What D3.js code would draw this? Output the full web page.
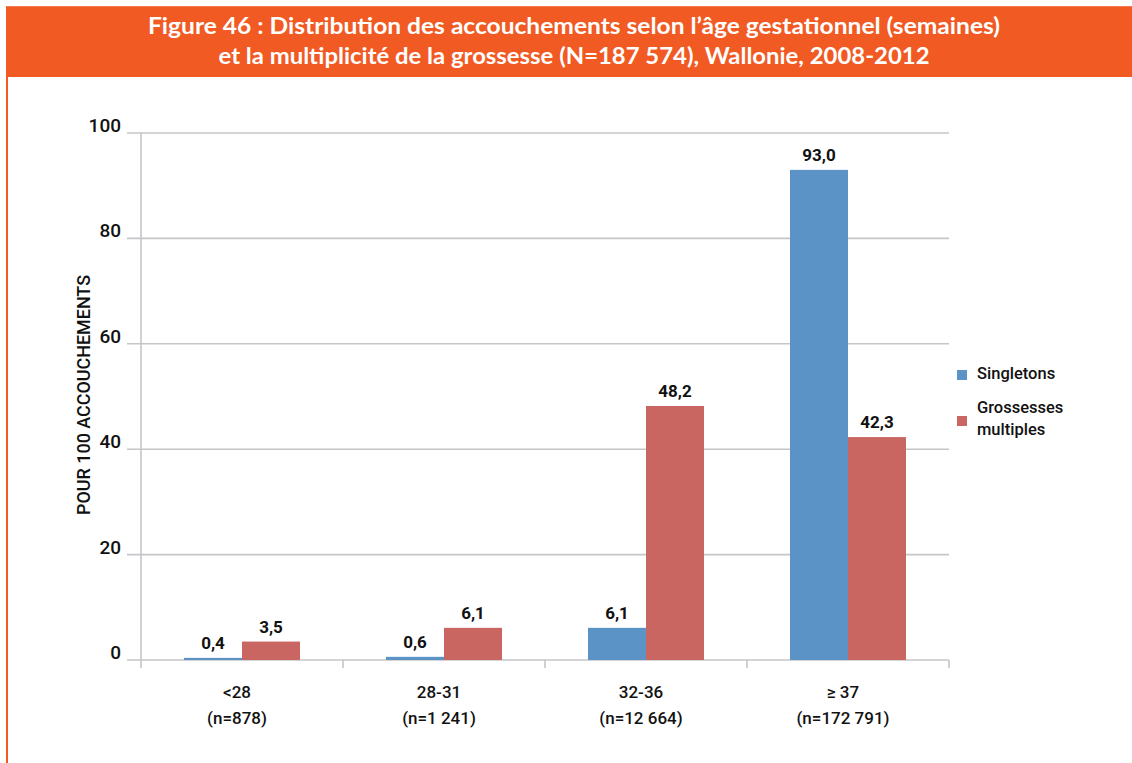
<!DOCTYPE html>
<html>
<head>
<meta charset="utf-8">
<script src="https://cdn.jsdelivr.net/npm/d3@7/dist/d3.min.js"></script>
<style>
  html, body { margin: 0; padding: 0; background: #fff; }
  svg { display: block; }
  .cond { font-family: "Roboto", "Liberation Sans", sans-serif; font-weight: 500; }
</style>
</head>
<body>
<svg id="chart" width="1132" height="763"></svg>
<script>
// Gestational age groups and their counts
const categories = ["<28", "28-31", "32-36", "\u2265 37"];
const categoryCounts = ["(n=878)", "(n=1 241)", "(n=12 664)", "(n=172 791)"];
const seriesNames = ["Singletons", "Grossesses multiples"];
const singletons = [0.4, 0.6, 6.1, 93.0];
const multiples = [3.5, 6.1, 48.2, 42.3];
const yTicks = [0, 20, 40, 60, 80, 100];
const titleLines = [
  "Figure 46 : Distribution des accouchements selon l\u2019\u00e2ge gestationnel (semaines)",
  "et la multiplicit\u00e9 de la grossesse (N=187 574), Wallonie, 2008-2012"
];
const titleWidths = [852, 711];
const yTitle = "POUR 100 ACCOUCHEMENTS";

const colors = ["#5B93C6", "#CA6662"];
const orange = "#F15A22";
const gridColor = "#C6C6CA";

const svg = d3.select("#chart");

// Header band and left rule
svg.append("rect").attr("x", 6).attr("y", 6).attr("width", 1126).attr("height", 71).attr("fill", orange);
svg.append("rect").attr("x", 6).attr("y", 6).attr("width", 1126).attr("height", 1).attr("fill", "#F47A50");
svg.append("rect").attr("x", 6).attr("y", 77).attr("width", 2).attr("height", 686).attr("fill", orange);

svg.selectAll("text.title").data(titleLines).enter().append("text")
  .attr("class", "title")
  .attr("x", 574).attr("y", (d, i) => 34 + i * 30)
  .attr("text-anchor", "middle")
  .attr("fill", "#fff")
  .attr("font-family", "Lato, 'Open Sans', sans-serif")
  .attr("font-weight", "bold")
  .attr("font-size", 23)
  .attr("textLength", (d, i) => titleWidths[i])
  .attr("lengthAdjust", "spacingAndGlyphs")
  .text(d => d);

// Plot area
const plotLeft = 141, plotRight = 949, plotTop = 133, plotBottom = 660;
const x = d3.scaleBand().domain(categories).range([plotLeft, plotRight]).paddingInner(0).paddingOuter(0);
const x1 = d3.scaleBand().domain(seriesNames).range([0, 116]);
const y = d3.scaleLinear().domain([0, 100]).range([plotBottom, plotTop]);

const g = svg.append("g").attr("class", "cond");

// Horizontal gridlines with small ticks
g.selectAll("line.grid").data(yTicks).enter().append("line")
  .attr("x1", 127).attr("x2", plotRight)
  .attr("y1", d => y(d)).attr("y2", d => y(d))
  .attr("stroke", gridColor).attr("stroke-width", 1.6);

// Vertical axis line
g.append("line").attr("x1", plotLeft).attr("x2", plotLeft).attr("y1", plotTop).attr("y2", plotBottom + 8)
  .attr("stroke", gridColor).attr("stroke-width", 1.6);

// Category separators on the x axis
const bounds = categories.map(c => x(c) + x.bandwidth());
g.selectAll("line.xt").data(bounds).enter().append("line")
  .attr("x1", d => d).attr("x2", d => d)
  .attr("y1", plotBottom).attr("y2", plotBottom + 8)
  .attr("stroke", gridColor).attr("stroke-width", 1.6);

// Y tick labels
g.selectAll("text.yt").data(yTicks).enter().append("text")
  .attr("x", 121).attr("y", d => y(d) - 1)
  .attr("text-anchor", "end")
  .attr("font-size", 19)
  .attr("fill", "#111")
  .text(d => d);

// Y axis title
g.append("text")
  .attr("transform", "translate(90,395) rotate(-90)")
  .attr("text-anchor", "middle")
  .attr("font-size", 17.5)
  .attr("textLength", 240)
  .attr("lengthAdjust", "spacingAndGlyphs")
  .attr("fill", "#111")
  .text(yTitle);

// Bars
const rows = categories.map((c, i) => ({ cat: c, vals: [singletons[i], multiples[i]] }));
const groups = g.selectAll("g.cat").data(rows).enter().append("g")
  .attr("transform", d => `translate(${x(d.cat) + x.bandwidth() / 2 - 58},0)`);

groups.selectAll("rect").data(d => d.vals.map((v, j) => ({ v, s: seriesNames[j], j }))).enter().append("rect")
  .attr("x", d => x1(d.s))
  .attr("y", d => y(d.v))
  .attr("width", x1.bandwidth())
  .attr("height", d => plotBottom - y(d.v))
  .attr("fill", d => colors[d.j]);

groups.selectAll("text").data(d => d.vals.map((v, j) => ({ v, s: seriesNames[j], j }))).enter().append("text")
  .attr("x", d => x1(d.s) + x1.bandwidth() / 2)
  .attr("y", d => y(d.v) - 9)
  .attr("text-anchor", "middle")
  .attr("font-size", 17)
  .attr("font-weight", "bold")
  .attr("fill", "#111")
  .text(d => d3.format(".1f")(d.v).replace(".", ","));

// Category labels
categories.forEach((c, i) => {
  const cx = x(c) + x.bandwidth() / 2 - 5;
  g.append("text").attr("x", cx).attr("y", 698).attr("text-anchor", "middle")
    .attr("font-size", 17).attr("fill", "#111").text(c);
  g.append("text").attr("x", cx).attr("y", 724).attr("text-anchor", "middle")
    .attr("font-size", 17).attr("fill", "#111").text(categoryCounts[i]);
});

// Legend
const legend = g.append("g");
legend.append("rect").attr("x", 957).attr("y", 370).attr("width", 10).attr("height", 10).attr("fill", colors[0]);
legend.append("text").attr("x", 977).attr("y", 379).attr("font-size", 16.5).attr("fill", "#111").text("Singletons");
legend.append("rect").attr("x", 957).attr("y", 416).attr("width", 10).attr("height", 10).attr("fill", colors[1]);
legend.append("text").attr("x", 977).attr("y", 413).attr("font-size", 16.5).attr("fill", "#111").text("Grossesses");
legend.append("text").attr("x", 977).attr("y", 435).attr("font-size", 16.5).attr("fill", "#111").text("multiples");
</script>
</body>
</html>
